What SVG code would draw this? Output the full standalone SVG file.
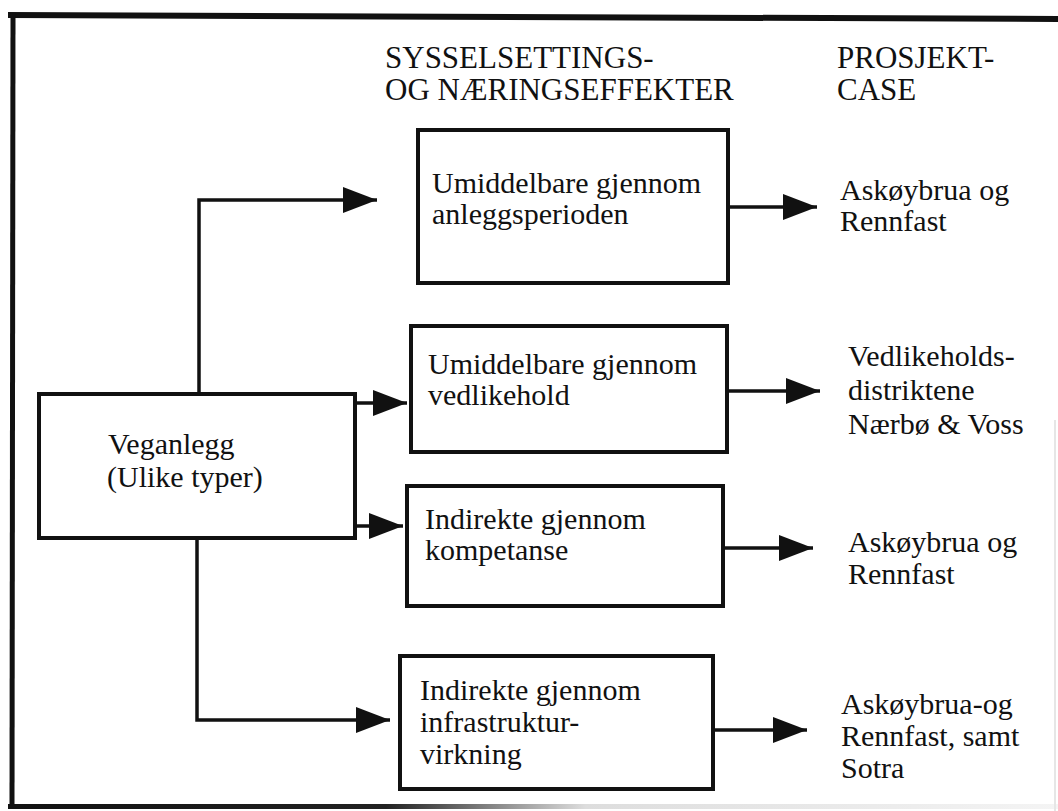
<svg xmlns="http://www.w3.org/2000/svg" width="1058" height="811" viewBox="0 0 1058 811">
  <style>
    text { font-family: 'Liberation Serif', 'Times New Roman', serif; fill: #111; }
    .t { font-size: 30px; }
    .h { font-size: 31px; }
    .box { fill: #fff; stroke: #111; stroke-width: 4; }
    .con { fill: none; stroke: #111; stroke-width: 3.5; }
  </style>
  <defs>
    <marker id="ah" markerUnits="userSpaceOnUse" markerWidth="36" markerHeight="30" refX="34" refY="14" orient="auto">
      <path d="M0,1 L34,14 L0,27 Z" fill="#111"/>
    </marker>
    <linearGradient id="fade" x1="0" y1="0" x2="1" y2="0">
      <stop offset="0" stop-color="#111"/>
      <stop offset="0.36" stop-color="#222"/>
      <stop offset="0.55" stop-color="#ddd"/>
      <stop offset="1" stop-color="#f4f4f4"/>
    </linearGradient>
  </defs>
  <rect x="0" y="0" width="1058" height="811" fill="#fff"/>

  <g id="frame">
    <path d="M8,15 L1058,19" stroke="#111" stroke-width="6" fill="none"/>
    <path d="M13,13 L12,809" stroke="#111" stroke-width="5" fill="none"/>
    <rect x="8" y="804" width="1050" height="5" fill="url(#fade)"/>
    <path d="M1055,420 L1055,811" stroke="#e6e6e6" stroke-width="2" fill="none"/>
  </g>

  <g id="headers">
    <text class="h" x="385" y="68">SYSSELSETTINGS-</text>
    <text class="h" x="385" y="100">OG NÆRINGSEFFEKTER</text>
    <text class="h" x="837" y="68">PROSJEKT-</text>
    <text class="h" x="837" y="100">CASE</text>
  </g>

  <g id="connectors">
    <path class="con" d="M199,393 L199,200 L377,200" marker-end="url(#ah)"/>
    <path class="con" d="M355,403 L407,403" marker-end="url(#ah)"/>
    <path class="con" d="M355,526 L403,526" marker-end="url(#ah)"/>
    <path class="con" d="M197,538 L197,720 L390,720" marker-end="url(#ah)"/>
    <path class="con" d="M728,207 L817,207" marker-end="url(#ah)"/>
    <path class="con" d="M727,391 L820,391" marker-end="url(#ah)"/>
    <path class="con" d="M723,548 L813,548" marker-end="url(#ah)"/>
    <path class="con" d="M713,730 L807,730" marker-end="url(#ah)"/>
  </g>

  <g id="node-veganlegg">
    <rect class="box" x="39" y="394" width="316" height="144"/>
    <text class="t" x="108" y="454">Veganlegg</text>
    <text class="t" x="107" y="487">(Ulike typer)</text>
  </g>

  <g id="node-anlegg">
    <rect class="box" x="418" y="130" width="310" height="153"/>
    <text class="t" x="432" y="193">Umiddelbare gjennom</text>
    <text class="t" x="432" y="224">anleggsperioden</text>
  </g>

  <g id="node-vedlikehold">
    <rect class="box" x="411" y="326" width="316" height="126"/>
    <text class="t" x="428" y="374">Umiddelbare gjennom</text>
    <text class="t" x="428" y="405">vedlikehold</text>
  </g>

  <g id="node-kompetanse">
    <rect class="box" x="407" y="486" width="316" height="120"/>
    <text class="t" x="425" y="529">Indirekte gjennom</text>
    <text class="t" x="425" y="560">kompetanse</text>
  </g>

  <g id="node-infrastruktur">
    <rect class="box" x="400" y="656" width="313" height="133"/>
    <text class="t" x="420" y="700">Indirekte gjennom</text>
    <text class="t" x="420" y="732">infrastruktur-</text>
    <text class="t" x="420" y="764">virkning</text>
  </g>

  <g id="case-1">
    <text class="t" x="840" y="200">Askøybrua og</text>
    <text class="t" x="840" y="231">Rennfast</text>
  </g>

  <g id="case-2">
    <text class="t" x="848" y="366">Vedlikeholds-</text>
    <text class="t" x="848" y="400">distriktene</text>
    <text class="t" x="848" y="434">Nærbø &amp; Voss</text>
  </g>

  <g id="case-3">
    <text class="t" x="848" y="552">Askøybrua og</text>
    <text class="t" x="848" y="584">Rennfast</text>
  </g>

  <g id="case-4">
    <text class="t" x="841" y="714">Askøybrua-og</text>
    <text class="t" x="841" y="746">Rennfast, samt</text>
    <text class="t" x="841" y="778">Sotra</text>
  </g>
</svg>
